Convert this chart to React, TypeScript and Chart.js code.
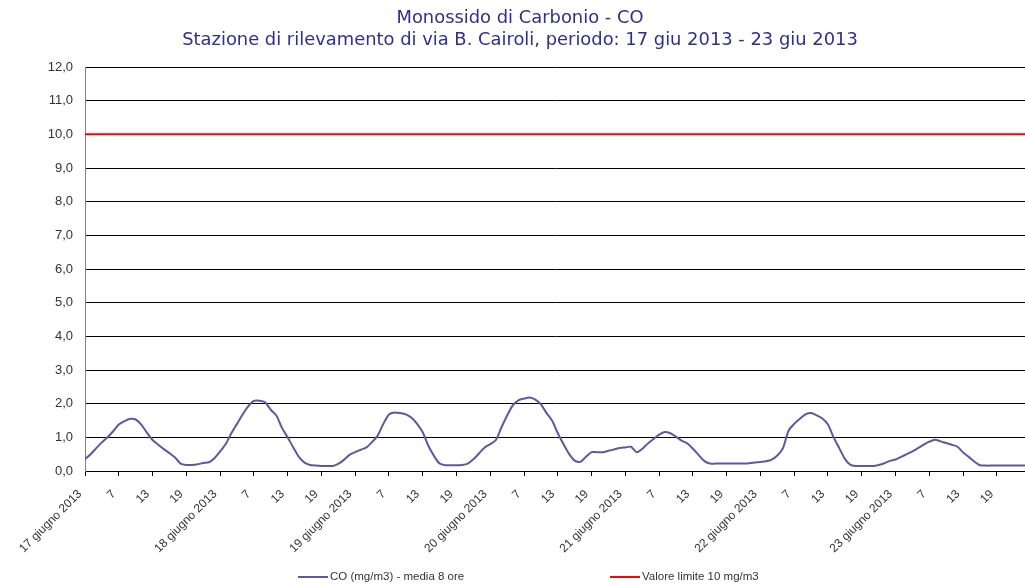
import React, { useEffect, useRef } from "react";
import { Chart, registerables } from "chart.js";

Chart.register(...registerables);

const titleLines = [
  "Monossido di Carbonio - CO",
  "Stazione di rilevamento di via B. Cairoli, periodo: 17 giu 2013 - 23 giu 2013",
];

const dayLabels = [
  "17 giugno 2013",
  "18 giugno 2013",
  "19 giugno 2013",
  "20 giugno 2013",
  "21 giugno 2013",
  "22 giugno 2013",
  "23 giugno 2013",
];
const hourLabels = ["7", "13", "19"];

const coLabel = "CO (mg/m3) - media 8 ore";
const limitLabel = "Valore limite 10 mg/m3";
const limitValue = 10;

// hourly 8-hour moving averages, from 17 giugno hour 1 to 23 giugno hour 24
const coValues = [
  // 17 giugno
  0.35, 0.5, 0.68, 0.85, 1.0, 1.18, 1.38, 1.48, 1.55, 1.53, 1.38, 1.14,
  0.92, 0.78, 0.65, 0.53, 0.4, 0.22, 0.18, 0.18, 0.2, 0.24, 0.26, 0.38,
  // 18 giugno
  0.58, 0.8, 1.12, 1.4, 1.68, 1.92, 2.08, 2.09, 2.04, 1.82, 1.65, 1.28,
  1.0, 0.7, 0.42, 0.25, 0.18, 0.16, 0.15, 0.15, 0.15, 0.21, 0.33, 0.48,
  // 19 giugno
  0.56, 0.63, 0.7, 0.86, 1.05, 1.4, 1.68, 1.74, 1.72, 1.68, 1.58, 1.4,
  1.15, 0.75, 0.45, 0.22, 0.17, 0.17, 0.17, 0.18, 0.22, 0.35, 0.52, 0.7,
  // 20 giugno
  0.8, 0.92, 1.3, 1.65, 1.95, 2.1, 2.15, 2.18, 2.12, 1.98, 1.72, 1.49,
  1.12, 0.8, 0.51, 0.31, 0.27, 0.42, 0.56, 0.56, 0.56, 0.6, 0.64, 0.68,
  // 21 giugno
  0.7, 0.72, 0.56, 0.66, 0.82, 0.95, 1.08, 1.16, 1.12, 1.02, 0.9, 0.82,
  0.66, 0.48, 0.3, 0.22, 0.22, 0.22, 0.22, 0.22, 0.22, 0.22, 0.23, 0.25,
  // 22 giugno
  0.27, 0.29, 0.34, 0.46, 0.68, 1.2, 1.4, 1.55, 1.68, 1.72, 1.65, 1.56,
  1.38, 1.0, 0.68, 0.36, 0.18, 0.15, 0.15, 0.15, 0.15, 0.18, 0.23, 0.3,
  // 23 giugno
  0.34, 0.42, 0.5, 0.58, 0.68, 0.78, 0.87, 0.93, 0.88, 0.83, 0.78, 0.72,
  0.55, 0.42, 0.28, 0.17, 0.16, 0.16, 0.16, 0.16, 0.16, 0.16, 0.16, 0.16,
];

const yTicks = { min: 0, max: 12, step: 1 };

const W = 1025;
const H = 584;

const legendPlugin = {
  id: "customLegend",
  afterDraw(chart: any) {
    const ctx = chart.ctx;
    const items = chart.data.datasets.map((d: any) => ({
      text: d.label,
      color: d.borderColor,
    }));
    const starts = [298, 610];
    const y = 577;
    ctx.save();
    ctx.font = "11.5px 'Liberation Sans', Arial, sans-serif";
    ctx.textBaseline = "middle";
    ctx.textAlign = "left";
    items.forEach((it: any, i: number) => {
      const x0 = starts[i];
      ctx.strokeStyle = it.color;
      ctx.lineWidth = 2;
      ctx.beginPath();
      ctx.moveTo(x0, y);
      ctx.lineTo(x0 + 30, y);
      ctx.stroke();
      ctx.fillStyle = "#333333";
      ctx.fillText(it.text, x0 + 32, y);
    });
    ctx.restore();
  },
};

export default function App() {
  const ref = useRef<HTMLCanvasElement | null>(null);

  useEffect(() => {
    if (!ref.current) return;
    const last = coValues.length - 1;
    const chart = new Chart(ref.current, {
      type: "line",
      data: {
        datasets: [
          {
            label: coLabel,
            data: coValues.map((v, i) => ({ x: i, y: v })),
            borderColor: "#5a5aa2",
            backgroundColor: "#5a5aa2",
            borderWidth: 2,
            pointRadius: 0,
            tension: 0.25,
          },
          {
            label: limitLabel,
            data: [
              { x: 0, y: limitValue },
              { x: last, y: limitValue },
            ],
            borderColor: "#ff0000",
            backgroundColor: "#ff0000",
            borderWidth: 2,
            pointRadius: 0,
          },
        ],
      },
      options: {
        responsive: false,
        animation: false,
        devicePixelRatio: 1,
        layout: { padding: { left: 15, right: 0, top: 0, bottom: 0 } },
        plugins: {
          legend: { display: false },
          tooltip: { enabled: false },
          title: {
            display: true,
            text: titleLines,
            color: "#2e2e94",
            font: { family: "'DejaVu Sans', Verdana, sans-serif", size: 17.9, weight: "normal", lineHeight: 22 / 17.9 },
            padding: { top: 7, bottom: 16 },
          },
        },
        scales: {
          x: {
            type: "linear",
            min: 0,
            max: last,
            afterFit: (s: any) => {
              s.height = 113;
            },
            border: { color: "#000000", width: 1 },
            grid: {
              drawOnChartArea: false,
              drawTicks: true,
              tickLength: 5,
              color: "#000000",
            },
            ticks: {
              stepSize: 6,
              autoSkip: false,
              includeBounds: false,
              maxRotation: 45,
              minRotation: 45,
              padding: 11,
              labelOffset: -5,
              color: "#333333",
              font: { family: "'Liberation Sans', Arial, sans-serif", size: 12 },
              callback: (value: any) => {
                const v = Number(value);
                if (v % 6 !== 0) return "";
                const k = v / 6;
                const day = Math.floor(k / 4);
                const part = k % 4;
                return part === 0 ? dayLabels[day] : hourLabels[part - 1];
              },
            },
          },
          y: {
            min: yTicks.min,
            max: yTicks.max,
            afterFit: (s: any) => {
              s.width = 70;
            },
            border: { color: "#808080", width: 1 },
            grid: {
              color: "#000000",
              lineWidth: 1,
              drawTicks: false,
            },
            ticks: {
              stepSize: yTicks.step,
              padding: 12,
              color: "#333333",
              font: { family: "'Liberation Sans', Arial, sans-serif", size: 13 },
              callback: (value: any) => Number(value).toFixed(1).replace(".", ","),
            },
          },
        },
      },
      plugins: [legendPlugin],
    });
    return () => chart.destroy();
  }, []);

  return (
    <div style={{ position: "absolute", left: 0, top: 0, width: W, height: H, overflow: "hidden", background: "#ffffff" }}>
      <canvas ref={ref} width={W} height={H} style={{ display: "block" }} />
    </div>
  );
}
